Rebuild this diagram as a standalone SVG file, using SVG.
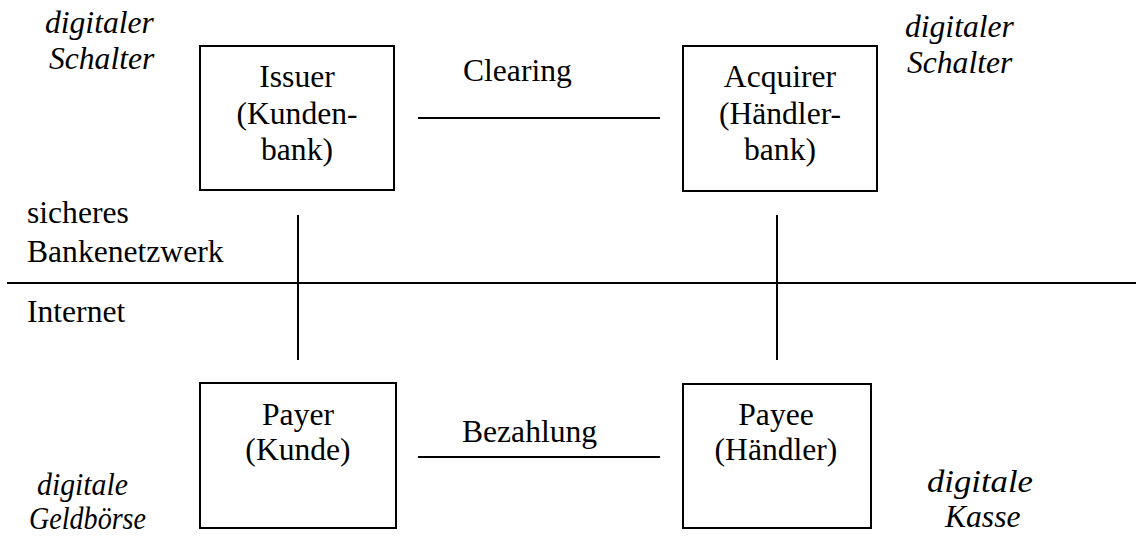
<svg xmlns="http://www.w3.org/2000/svg" width="1136" height="540" viewBox="0 0 1136 540">
<style>
text{font-family:"Liberation Serif","Times New Roman",serif;font-size:31.6px;fill:#000}
.it{font-style:italic}
.mid{text-anchor:middle}
.box{fill:#fff;stroke:#000;stroke-width:2}
.ln{stroke:#000;stroke-width:2;fill:none}
</style>
<rect width="1136" height="540" fill="#fff"/>
<g id="connectors">
<line class="ln" x1="418" y1="118" x2="660" y2="118"/>
<line class="ln" x1="418" y1="457" x2="660" y2="457"/>
<line class="ln" x1="298" y1="215" x2="298" y2="360"/>
<line class="ln" x1="777" y1="215" x2="777" y2="360"/>
<line class="ln" x1="7" y1="283" x2="1136" y2="283"/>
</g>
<g id="issuer">
<rect class="box" x="200" y="46" width="194" height="144"/>
<text class="mid" x="297" y="87">Issuer</text>
<text class="mid" x="297" y="123.5">(Kunden-</text>
<text class="mid" x="297" y="160">bank)</text>
</g>
<g id="acquirer">
<rect class="box" x="683" y="46" width="194" height="145"/>
<text class="mid" x="780" y="87">Acquirer</text>
<text class="mid" x="780" y="123.5">(Händler-</text>
<text class="mid" x="780" y="160">bank)</text>
</g>
<g id="payer">
<rect class="box" x="200" y="383" width="196" height="145"/>
<text class="mid" x="298" y="425">Payer</text>
<text class="mid" x="298" y="460">(Kunde)</text>
</g>
<g id="payee">
<rect class="box" x="683" y="384" width="188" height="144"/>
<text class="mid" x="776" y="425">Payee</text>
<text class="mid" x="776" y="460">(Händler)</text>
</g>
<g id="labels">
<text x="463" y="81">Clearing</text>
<text x="462" y="442">Bezahlung</text>
<text x="27" y="223">sicheres</text>
<text x="27" y="262">Bankenetzwerk</text>
<text x="27" y="322">Internet</text>
<text class="it" x="45" y="33">digitaler</text>
<text class="it" x="49" y="69">Schalter</text>
<text class="it" x="905" y="37">digitaler</text>
<text class="it" x="907" y="73">Schalter</text>
<text class="it" x="37" y="495" textLength="91" lengthAdjust="spacingAndGlyphs">digitale</text>
<text class="it" x="29" y="529" textLength="117" lengthAdjust="spacingAndGlyphs">Geldbörse</text>
<text class="it" x="927" y="492" textLength="106" lengthAdjust="spacingAndGlyphs">digitale</text>
<text class="it" x="945" y="527">Kasse</text>
</g>
</svg>
